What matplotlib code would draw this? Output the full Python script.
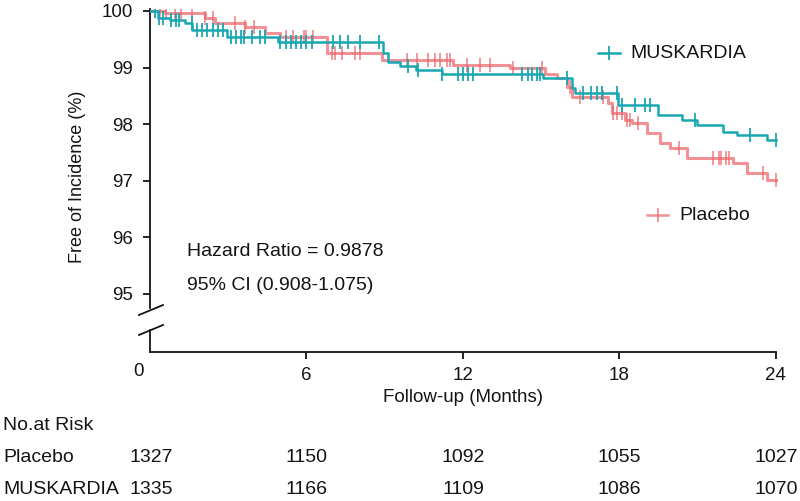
import numpy as np
import matplotlib
matplotlib.use("Agg")
import matplotlib.pyplot as plt
from matplotlib.lines import Line2D
from matplotlib.transforms import blended_transform_factory

plt.rcParams['font.family'] = ['Liberation Sans', 'DejaVu Sans']

# Kaplan-Meier step curves (months, % free of incidence)
musk_t = [0, 0.31, 0.77, 1.34, 1.61, 2.95, 4.9, 8.93, 9.13, 9.6, 10.2, 11.2,
          15.07, 16.18, 16.3, 17.94, 19.48, 20.4, 20.97, 21.97, 22.5, 23.66]
musk_s = [100, 99.88, 99.84, 99.78, 99.66, 99.54, 99.45, 99.26, 99.1, 99.03, 98.96, 98.89,
          98.82, 98.64, 98.55, 98.34, 98.16, 98.07, 97.99, 97.86, 97.81, 97.72]
plac_t = [0, 0.58, 2.1, 2.5, 3.64, 4.4, 5.0, 6.79, 8.9, 11.6, 13.8, 15.15, 15.6,
          16.0, 16.2, 17.56, 17.7, 18.2, 18.5, 19.06, 19.55, 19.94, 20.6, 22.35, 22.9, 23.66]
plac_s = [100, 99.96, 99.88, 99.79, 99.72, 99.62, 99.54, 99.26, 99.13, 99.05, 98.99, 98.88, 98.82,
          98.66, 98.48, 98.37, 98.2, 98.07, 98.02, 97.84, 97.67, 97.58, 97.4, 97.31, 97.14, 97.01]

# censoring times
musk_cens = [0.2, 0.35, 0.5, 0.8, 1.0, 1.1, 1.6, 1.8, 2.0, 2.2, 2.4, 2.6, 2.8, 3.1, 3.3,
             3.5, 3.6, 3.9, 4.2, 4.4, 5.0, 5.2, 5.4, 5.6, 5.8, 6.0, 6.2, 7.0, 7.3, 7.6,
             8.05, 8.8, 9.9, 10.28, 11.2, 11.81, 12.0, 12.2, 12.39, 14.25, 14.5, 14.65,
             14.85, 14.95, 16.0, 16.6, 16.9, 17.14, 17.33, 17.9, 18.1, 18.6, 18.98, 19.17,
             20.9, 23.0, 24.0]
plac_cens = [0.2, 0.4, 0.6, 0.95, 1.2, 1.6, 2.1, 2.4, 3.25, 3.64, 4.0, 5.2, 5.5, 5.9, 6.0,
             6.25, 6.98, 7.1, 7.36, 7.86, 8.05, 9.86, 10.24, 10.66, 10.93, 11.12, 11.39,
             11.5, 12.16, 12.65, 13.04, 13.92, 15.03, 16.1, 16.5, 17.37, 17.75, 17.9, 18.1,
             18.3, 18.4, 18.7, 20.3, 21.6, 21.8, 21.9, 22.1, 22.2, 23.5, 24.0]

risk_months = [0, 6, 12, 18, 24]
risk_placebo = [1327, 1150, 1092, 1055, 1027]
risk_musk = [1335, 1166, 1109, 1086, 1070]

teal = '#19a7b1'
red = '#ec6268'
dark = '#141414'

W, H = 800, 501
fig = plt.figure(figsize=(8, 5.01), dpi=100)
ax = fig.add_axes([150 / W, 149 / H, 628.5 / W, 342.7 / H])


def step_at(t, s, x):
    i = np.searchsorted(t, x, side='right') - 1
    return np.asarray(s)[i]


def draw_km(t, s, cens, color, alpha, lw):
    tt = list(t) + [24]
    ss = list(s) + [s[-1]]
    ax.step(tt, ss, where='post', color=color, lw=lw, alpha=alpha, zorder=3)
    ax.plot(cens, step_at(t, s, cens), ls='none', marker='|', ms=10, mew=1.3,
            color=color, alpha=alpha, zorder=3)


draw_km(plac_t, plac_s, plac_cens, red, 0.7, 2.2)
draw_km(musk_t, musk_s, musk_cens, teal, 1.0, 1.8)

ax.set_xlim(0, 24.1)
ax.set_ylim(93.975, 100.03)
for side in ['top', 'right', 'left']:
    ax.spines[side].set_visible(False)
ax.spines['bottom'].set_bounds(0, 24)
ax.spines['bottom'].set_linewidth(1.3)
ax.spines['bottom'].set_color(dark)

# broken y axis drawn by hand
ax.plot([0, 0], [100.03, 94.75], color=dark, lw=1.3, clip_on=False)
ax.plot([0, 0], [94.36, 93.975], color=dark, lw=1.3, clip_on=False)
for y1, y2 in [(315, 305), (335, 325)]:
    fig.add_artist(Line2D([139 / W, 163 / W], [1 - y1 / H, 1 - y2 / H],
                          color=dark, lw=1.3))

ax.set_xticks([6, 12, 18, 24])
ax.set_yticks([95, 96, 97, 98, 99, 100])
ax.tick_params(axis='both', direction='out', length=5, width=1.3, colors=dark,
               labelsize=13.5)
ax.tick_params(axis='x', pad=6)
ax.tick_params(axis='y', pad=7)


def ftext(x, y, s, **kw):
    fig.text(x / W, 1 - y / H, s, color=dark, **kw)


ftext(139, 372, '0', ha='center', va='center', fontsize=13.5)
ftext(77, 177, 'Free of Incidence (%)', rotation=90, ha='center', va='center', fontsize=13)
ftext(463, 398, 'Follow-up (Months)', ha='center', va='center', fontsize=13.5)
ftext(187, 252, 'Hazard Ratio = 0.9878', ha='left', va='center', fontsize=14)
ftext(187, 286, '95% CI (0.908-1.075)', ha='left', va='center', fontsize=14)

# legend entries
for (x1, x2, y, col, al, label, tx) in [(598, 620, 53, teal, 1.0, 'MUSKARDIA', 630),
                                         (647, 668, 215, red, 0.7, 'Placebo', 679)]:
    fig.add_artist(Line2D([x1 / W, x2 / W], [1 - y / H, 1 - y / H], color=col,
                          lw=1.8, alpha=al))
    fig.add_artist(Line2D([(x1 + x2) / 2 / W], [1 - y / H], color=col, ls='none',
                          marker='|', ms=10, mew=1.3, alpha=al))
    ftext(tx, y, label, ha='left', va='center', fontsize=14)

# number at risk table
ftext(3, 425, 'No.at Risk', ha='left', va='center', fontsize=14)
ftext(3, 457, 'Placebo', ha='left', va='center', fontsize=14)
ftext(3, 490, 'MUSKARDIA', ha='left', va='center', fontsize=14)
trans = blended_transform_factory(ax.transData, fig.transFigure)
for m, p, k in zip(risk_months, risk_placebo, risk_musk):
    xm = m + 0.05 if m == 0 else m
    ax.text(xm, 1 - 457 / H, str(p), transform=trans, ha='center', va='center',
            fontsize=14, color=dark, clip_on=False)
    ax.text(xm, 1 - 490 / H, str(k), transform=trans, ha='center', va='center',
            fontsize=14, color=dark, clip_on=False)

fig.savefig('out.png', dpi=100)
